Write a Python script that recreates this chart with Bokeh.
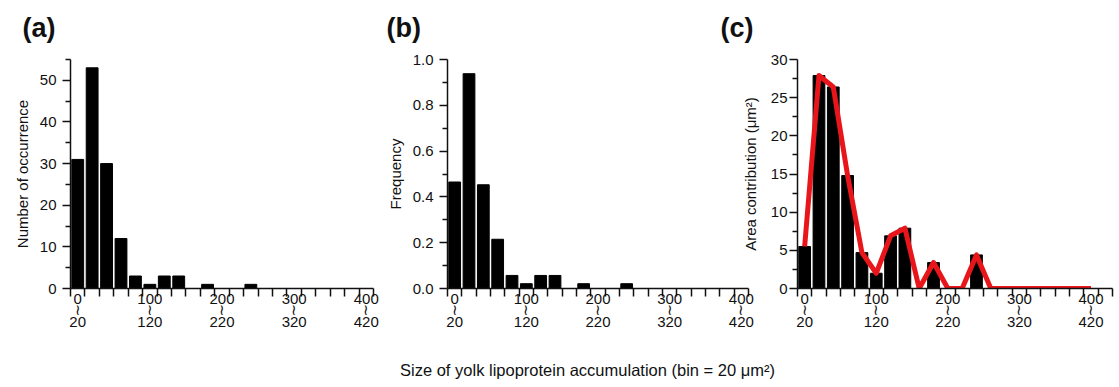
from bokeh.plotting import figure
from bokeh.layouts import row, column
from bokeh.models import FixedTicker, Label, Range1d, PrintfTickFormatter
from bokeh.embed import file_html
from bokeh.resources import INLINE

# ---------------- data ----------------
bin_starts = [0, 20, 40, 60, 80, 100, 120, 140, 160, 180, 200,
              220, 240, 260, 280, 300, 320, 340, 360, 380, 400]
occurrence = [31, 53, 30, 12, 3, 1, 3, 3, 0, 1, 0,
              0, 1, 0, 0, 0, 0, 0, 0, 0, 0]
frequency = [0.465, 0.938, 0.453, 0.215, 0.057, 0.021, 0.057, 0.057, 0, 0.021, 0,
             0, 0.021, 0, 0, 0, 0, 0, 0, 0, 0]
area_contribution = [5.5, 27.9, 26.4, 14.8, 4.7, 2.0, 6.9, 7.9, 0, 3.4, 0,
                     0, 4.4, 0, 0, 0, 0, 0, 0, 0, 0]
label_starts = [0, 100, 200, 300, 400]
tick_labels = ["0\n\u2240\n20", "100\n\u2240\n120", "200\n\u2240\n220",
               "300\n\u2240\n320", "400\n\u2240\n420"]
edges_ab = bin_starts + [420]
edges_c = bin_starts + [420, 440]
panel_letters = ["(a)", "(b)", "(c)"]

FONT = "Liberation Sans"
INK = "#111111"
RED = "#e8161b"
TOP = 45        # height of the strip holding the panel letters
ROW_H = 305     # height of the chart row

centers = [b + 10 for b in bin_starts]


def make_fig(width, left, right, top, xmax, ymax, **kw):
    p = figure(width=width, height=ROW_H, x_range=Range1d(0, xmax), y_range=Range1d(0, ymax),
               output_backend="svg", toolbar_location=None,
               min_border_left=left, min_border_right=right,
               min_border_top=top, min_border_bottom=ROW_H - (288 - TOP), **kw)
    p.grid.visible = False
    p.outline_line_color = None
    return p


def style(p, edges, yticks, yminor, ylabel_standoff=6, yaxis_label_standoff=6):
    for ax in (p.xaxis[0], p.yaxis[0]):
        ax.axis_line_width = 1.5
        ax.axis_line_color = INK
        ax.major_tick_line_width = 1.5
        ax.minor_tick_line_width = 1.5
        ax.major_tick_line_color = INK
        ax.minor_tick_line_color = INK
        ax.major_label_text_font = FONT
        ax.major_label_text_font_size = "15px"
        ax.major_label_text_color = INK
        ax.axis_label_text_font = FONT
        ax.axis_label_text_font_size = "15px"
        ax.axis_label_text_font_style = "normal"
        ax.axis_label_text_color = INK
        ax.major_tick_in = 0
        ax.minor_tick_in = 0
    xa = p.xaxis[0]
    xa.ticker = FixedTicker(ticks=[b + 10 for b in label_starts], minor_ticks=edges)
    xa.major_tick_out = 0
    xa.minor_tick_out = 8
    xa.major_label_overrides = {b + 10: t for b, t in zip(label_starts, tick_labels)}
    xa.major_label_standoff = -7
    xa.major_label_text_line_height = 0.7
    ya = p.yaxis[0]
    ya.ticker = FixedTicker(ticks=yticks, minor_ticks=yminor)
    ya.major_tick_out = 8
    ya.minor_tick_out = 5
    ya.major_label_standoff = ylabel_standoff
    ya.axis_label_standoff = yaxis_label_standoff


# ---------------- panel letters strip ----------------
pt = figure(width=1119, height=TOP, x_range=Range1d(0, 1), y_range=Range1d(0, 1),
            output_backend="svg", toolbar_location=None,
            x_axis_location=None, y_axis_location=None, min_border=0)
pt.grid.visible = False
pt.outline_line_color = None
for txt, xs in zip(panel_letters, [22, 386, 720]):
    pt.add_layout(Label(x=xs, y=18, x_units="screen", y_units="screen", text=txt,
                        text_font=FONT, text_font_size="27px", text_font_style="bold",
                        text_color=INK, text_baseline="alphabetic", text_align="left"))

# ---------------- (a) ----------------
p1 = make_fig(383, 70, 10, 57 - TOP, 420, 55)
p1.vbar(x=centers, top=occurrence, width=16.4, color="black")
style(p1, edges_ab, [0, 10, 20, 30, 40, 50], [5, 15, 25, 35, 45, 55])
p1.yaxis.axis_label = "Number of occurrence"

# ---------------- (b) ----------------
p2 = make_fig(375, 61, 10, 57 - TOP, 420, 1.0)
p2.vbar(x=centers, top=frequency, width=16.4, color="black")
style(p2, edges_ab, [0, 0.2, 0.4, 0.6, 0.8, 1.0], [0.1, 0.3, 0.5, 0.7, 0.9])
p2.yaxis.formatter = PrintfTickFormatter(format="%.1f")
p2.yaxis.axis_label = "Frequency"

# ---------------- (c) ----------------
p3 = make_fig(383, 61, 7, 59 - TOP, 440, 30, styles={"margin-left": "-22px"})
p3.border_fill_color = None
p3.vbar(x=centers, top=area_contribution, width=16.4, color="black")
p3.line(x=centers, y=area_contribution, color=RED, line_width=5, line_join="round")
style(p3, edges_c, [0, 5, 10, 15, 20, 25, 30], [2.5, 7.5, 12.5, 17.5, 22.5, 27.5],
      ylabel_standoff=2, yaxis_label_standoff=9)
p3.yaxis.axis_label = "Area contribution (\u03bcm\u00b2)"

# ---------------- common x label ----------------
pb = figure(width=1119, height=37, x_range=Range1d(0, 1), y_range=Range1d(0, 1),
            output_backend="svg", toolbar_location=None,
            x_axis_location=None, y_axis_location=None, min_border=0)
pb.grid.visible = False
pb.outline_line_color = None
pb.add_layout(Label(x=587, y=18, x_units="screen", y_units="screen",
                    text="Size of yolk lipoprotein accumulation (bin = 20 \u03bcm\u00b2)",
                    text_font=FONT, text_font_size="16.5px", text_color=INK,
                    text_align="center", text_baseline="alphabetic"))

layout = column(pt, row(p1, p2, p3), pb)
open("out.html", "w").write(file_html(layout, INLINE))
